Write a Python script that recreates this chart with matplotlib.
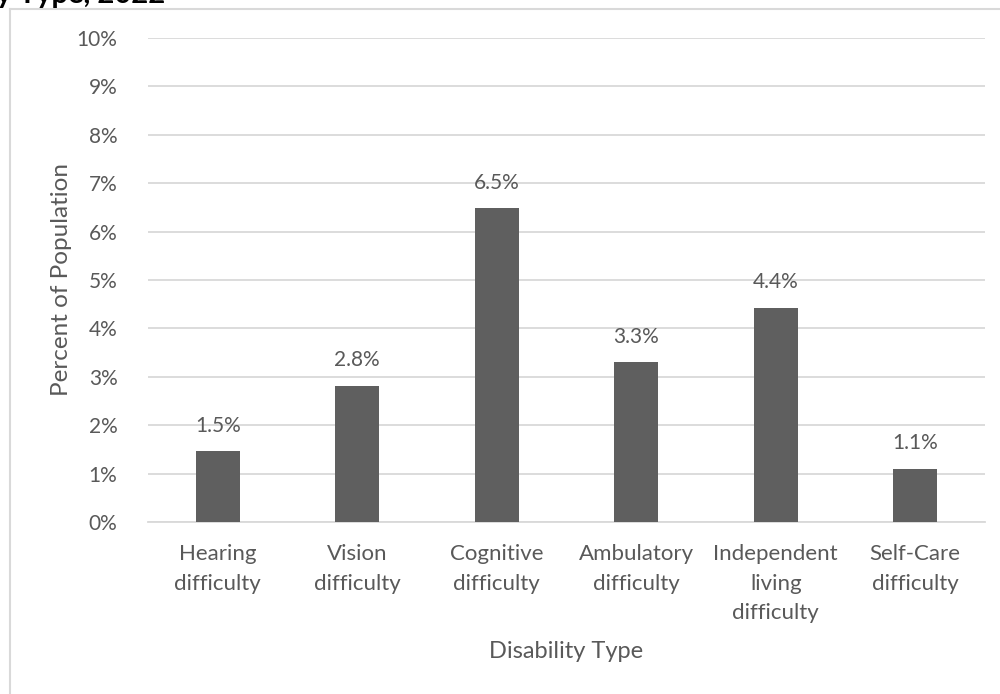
import matplotlib
matplotlib.use("Agg")
import matplotlib.pyplot as plt
from matplotlib.lines import Line2D

categories = ["Hearing\ndifficulty", "Vision\ndifficulty", "Cognitive\ndifficulty",
              "Ambulatory\ndifficulty", "Independent\nliving\ndifficulty", "Self-Care\ndifficulty"]
values = [1.47, 2.82, 6.48, 3.31, 4.43, 1.10]
yticks = [0, 1, 2, 3, 4, 5, 6, 7, 8, 9, 10]

plt.rcParams['font.family'] = ['Lato', 'DejaVu Sans']
W, H = 1000, 694
fig = plt.figure(figsize=(W/100, H/100), dpi=100)
ax = fig.add_axes([148/W, 1-522/H, (985-148)/W, (522-38)/H])

txt = '#595959'
x = list(range(len(categories)))
ax.bar(x, values, width=0.315, color='#5f5f5f', zorder=3)
for xi, v in zip(x, values):
    ax.annotate(f"{v:.1f}%", (xi, v), xytext=(0, 11), textcoords='offset points',
                ha='center', va='bottom', fontsize=15, color=txt)

ax.set_xlim(-0.5, len(categories)-0.5)
ax.set_ylim(0, 10)
ax.set_yticks(yticks)
ax.set_yticklabels([f"{t}%" for t in yticks], fontsize=15, color=txt)
ax.set_xticks(x)
ax.set_xticklabels(categories, fontsize=16, color=txt, linespacing=1.6)
ax.tick_params(axis='x', length=0, pad=16)
ax.tick_params(axis='y', length=0, pad=22)
ax.grid(axis='y', color='#d9d9d9', linewidth=1.3, zorder=0)
for s in ['top', 'right', 'left']:
    ax.spines[s].set_visible(False)
ax.spines['bottom'].set_color('#d9d9d9')
ax.spines['bottom'].set_linewidth(1.3)

fig.text(62/W, 1-280/H, "Percent of Population", rotation=90, ha='center', va='center',
         fontsize=17.5, color=txt)
fig.text(566/W, 1-652/H, "Disability Type", ha='center', va='center', fontsize=17, color=txt)

fig.text(165/W, 1-3/H, "Percent of Population with Disability by Disability Type, 2022",
         ha='right', va='baseline', fontsize=21, fontweight='bold', color='black')

fig.add_artist(Line2D([10/W, 1.0], [1-9/H, 1-9/H], transform=fig.transFigure,
                      color='#d9d9d9', linewidth=1.5))
fig.add_artist(Line2D([10/W, 10/W], [1-9/H, 0], transform=fig.transFigure,
                      color='#d9d9d9', linewidth=1.5))

fig.savefig("out.png", dpi=100)
